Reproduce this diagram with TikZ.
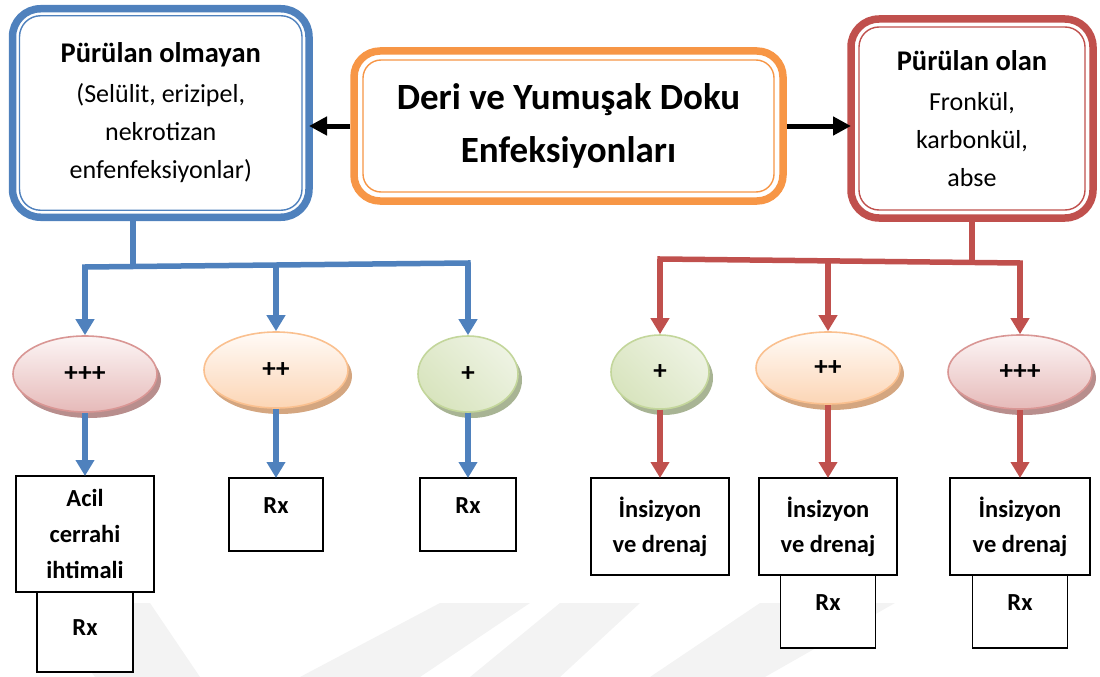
\documentclass[tikz,border=0pt]{standalone}
\usepackage{fontspec}
\setmainfont{Carlito}
\usetikzlibrary{shapes.geometric,arrows.meta,shadows,calc}

\definecolor{boxblue}{RGB}{79,129,189}
\definecolor{boxred}{RGB}{192,80,77}
\definecolor{boxorange}{RGB}{247,150,70}
\definecolor{pinkline}{RGB}{217,150,148}
\definecolor{pinktop}{RGB}{252,245,245}
\definecolor{pinkbot}{RGB}{230,186,185}
\definecolor{pinkshadow}{RGB}{184,142,141}
\definecolor{orangeline}{RGB}{250,192,143}
\definecolor{orangetop}{RGB}{255,251,247}
\definecolor{orangebot}{RGB}{252,213,181}
\definecolor{orangeshadow}{RGB}{212,166,128}
\definecolor{greenline}{RGB}{195,214,155}
\definecolor{greendark}{RGB}{216,228,190}
\definecolor{greenlight}{RGB}{238,243,227}
\definecolor{greenshadow}{RGB}{168,180,148}
\definecolor{markgray}{RGB}{243,243,243}

\begin{document}
\begin{tikzpicture}[x=1pt,y=-1pt,
  frame/.style={draw, line width=7.5pt, rounded corners=28pt, fill=white,
    inner sep=0pt, outer sep=0pt, align=center},
  pill/.style={ellipse, inner sep=0pt, line width=1.6pt,
    font=\fontsize{27}{30}\selectfont\bfseries},
  pinkpill/.style={pill, draw=pinkline, top color=pinktop, bottom color=pinkbot,
    drop shadow={shadow xshift=4pt, shadow yshift=-6pt, fill=pinkshadow, opacity=1}},
  orangepill/.style={pill, draw=orangeline, top color=orangetop, bottom color=orangebot,
    drop shadow={shadow xshift=4pt, shadow yshift=-6pt, fill=orangeshadow, opacity=1}},
  greenpill/.style={pill, draw=greenline, left color=greendark, right color=greenlight,
    shading angle=135,
    drop shadow={shadow xshift=4pt, shadow yshift=-6pt, fill=greenshadow, opacity=1}},
  plainbox/.style={draw=black, line width=1.8pt, fill=white, inner sep=0pt,
    outer sep=0pt, align=center, anchor=north,
    font=\fontsize{24.5}{35}\selectfont\bfseries},
  blueline/.style={draw=boxblue, line width=5.5pt},
  bluearrow/.style={blueline, -{Triangle[width=18pt,length=16pt]}},
  redline/.style={draw=boxred, line width=5.5pt},
  redarrow/.style={redline, -{Triangle[width=18pt,length=16pt]}},
  blackarrow/.style={draw=black, line width=5pt, -{Triangle[width=18pt,length=18pt]}},
  band/.style={fill=markgray, draw=none}
]
\useasboundingbox (0,0) rectangle (1100,677);

% --- faint background stripes along the bottom edge ---
\fill[band] (40,603) -- (150,603) -- (200,677) -- (95,677) -- cycle;
\fill[band] (440,603) -- (530,603) -- (420,677) -- (300,677) -- cycle;
\fill[band] (560,603) -- (640,603) -- (560,677) -- (470,677) -- cycle;
\fill[band] (760,603) -- (895,603) -- (765,677) -- (650,677) -- cycle;

% --- the three top frames ---
\node[frame, draw=boxblue, minimum width=296.5pt, minimum height=208.5pt,
  font=\fontsize{26}{38}\selectfont] (L) at (160.75,113)
  {{\bfseries\fontsize{28.5}{38}\selectfont Pürülan olmayan}\\[2pt](Selülit, erizipel,\\nekrotizan\\enfenfeksiyonlar)};
\draw[boxblue, line width=1.4pt, rounded corners=21pt]
  ($(L.north west)+(7,7)$) rectangle ($(L.south east)+(-7,-7)$);

\node[frame, draw=boxorange, rounded corners=26pt, minimum width=429pt, minimum height=150pt,
  font=\fontsize{37}{53}\selectfont\bfseries] (C) at (568.5,126)
  {Deri ve Yumuşak Doku\\Enfeksiyonları};
\draw[boxorange, line width=1.4pt, rounded corners=18pt]
  ($(C.north west)+(9,9)$) rectangle ($(C.south east)+(-9,-9)$);

\node[frame, draw=boxred, minimum width=242pt, minimum height=199pt,
  font=\fontsize{26}{38}\selectfont] (R) at (972,118.5)
  {{\bfseries\fontsize{28.5}{38}\selectfont Pürülan olan}\\[2pt]Fronkül,\\karbonkül,\\abse};
\draw[boxred, line width=1.4pt, rounded corners=20pt]
  ($(R.north west)+(8,8)$) rectangle ($(R.south east)+(-8,-8)$);

\draw[blackarrow] ([xshift=-4pt]C.west) -- (C.west -| L.east);
\draw[blackarrow] ([xshift=4pt]C.east) -- (C.east -| R.west);

% --- severity ellipses ---
\node[pinkpill, minimum width=144pt, minimum height=76pt] (e1) at (85,374) {+++};
\node[orangepill, minimum width=144pt, minimum height=76pt] (e2) at (276,370) {++};
\node[greenpill, minimum width=100pt, minimum height=76pt] (e3) at (468,374) {+};
\node[greenpill, minimum width=98pt, minimum height=74pt] (e4) at (660,372) {+};
\node[orangepill, minimum width=144pt, minimum height=72pt] (e5) at (828,368) {++};
\node[pinkpill, minimum width=144pt, minimum height=74pt] (e6) at (1020,372) {+++};

% --- treatment boxes ---
\node[plainbox, minimum width=138pt, minimum height=116pt,
  font=\fontsize{24.5}{36}\selectfont\bfseries] (a1) at (85,476) {Acil\\cerrahi\\ihtimali};
\node[plainbox, minimum width=96pt, text height=43pt, text depth=37pt] (a1rx) at (a1.south) {Rx};
\node[plainbox, minimum width=94pt, text height=35pt, text depth=38pt] (a2) at (276,478) {Rx};
\node[plainbox, minimum width=96pt, text height=35pt, text depth=38pt] (a3) at (468,478) {Rx};

\node[plainbox, minimum width=138pt, minimum height=97pt] (b1) at (660,478) {İnsizyon\\ve drenaj};
\node[plainbox, minimum width=138pt, minimum height=97pt] (b2) at (828,478) {İnsizyon\\ve drenaj};
\node[plainbox, minimum width=95pt, text height=35pt, text depth=38pt] (b2rx) at (b2.south) {Rx};
\node[plainbox, minimum width=140pt, minimum height=97pt] (b3) at (1020,478) {İnsizyon\\ve drenaj};
\node[plainbox, minimum width=95pt, text height=35pt, text depth=38pt] (b3rx) at (b3.south) {Rx};

% --- blue branch ---
\coordinate (bj) at (133,265);
\coordinate (bl) at (85,267);
\coordinate (bm) at (276,265);
\coordinate (br) at (468,263);
\draw[blueline] (bj |- L.south) -- (bj);
\draw[blueline, line cap=rect] (bl) -- (br);
\draw[bluearrow] (bl) -- (e1.north);
\draw[bluearrow] (bm) -- (e2.north);
\draw[bluearrow] (br) -- (e3.north);
\draw[bluearrow] (e1.south) -- (a1.north);
\draw[bluearrow] (e2.south) -- (a2.north);
\draw[bluearrow] (e3.south) -- (a3.north);

% --- red branch ---
\coordinate (rj) at (972,262);
\coordinate (rl) at (660,259);
\coordinate (rm) at (828,261);
\coordinate (rr) at (1020,263);
\draw[redline] (R.south) -- (rj);
\draw[redline, line cap=rect] (rl) -- (rr);
\draw[redarrow] (rl) -- (e4.north);
\draw[redarrow] (rm) -- (e5.north);
\draw[redarrow] (rr) -- (e6.north);
\draw[redarrow] (e4.south) -- (b1.north);
\draw[redarrow] (e5.south) -- (b2.north);
\draw[redarrow] (e6.south) -- (b3.north);
\end{tikzpicture}
\end{document}
